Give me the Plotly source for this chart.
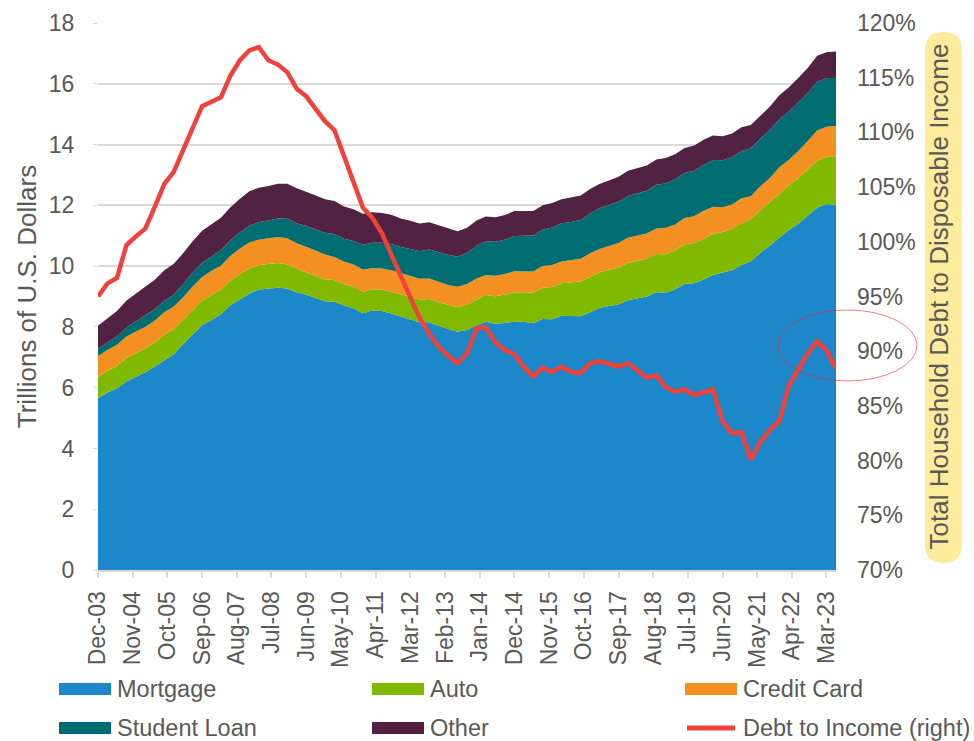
import plotly.graph_objects as go
import pandas as pd

# ─── DESIGN TOKENS ────────────────────────────────────────────
BLUE   = "#1C88C9"
GREEN  = "#80BA00"
ORANGE = "#F39021"
TEAL   = "#006D72"
PLUM   = "#522243"
RED    = "#F0413A"
GRID   = "#D9D9D9"
TEXT   = "#595959"
YELLOW = "#FFEB9C"
FONT   = "Arial, 'Liberation Sans', sans-serif"

# ─── DATA (quarterly, Dec-03 .. Jun-23, trillions of US$) ─────
quarters = pd.date_range("2003-12-01", periods=79, freq="3MS")

mortgage = [
    5.65,
    5.84, 5.97, 6.21, 6.36, 6.51, 6.70, 6.91, 7.10, 7.44, 7.76, 8.05, 8.23,
    8.42, 8.71, 8.92, 9.10, 9.23, 9.27, 9.29, 9.26, 9.14, 9.06, 8.94, 8.84,
    8.83, 8.70, 8.61, 8.45, 8.54, 8.52, 8.44, 8.33, 8.24, 8.15, 8.15, 8.03,
    7.93, 7.84, 7.90, 8.05, 8.17, 8.10, 8.13, 8.17, 8.17, 8.12, 8.26, 8.25,
    8.37, 8.36, 8.35, 8.48, 8.63, 8.69, 8.74, 8.88, 8.94, 9.00, 9.14, 9.12,
    9.24, 9.41, 9.44, 9.56, 9.71, 9.78, 9.86, 10.04, 10.16, 10.44, 10.67, 10.93,
    11.18, 11.39, 11.67, 11.92, 12.04, 12.01,
]
auto = [
    0.70,
    0.72, 0.74, 0.77, 0.77, 0.78, 0.79, 0.83, 0.82, 0.79, 0.82, 0.82, 0.82,
    0.80, 0.81, 0.82, 0.81, 0.80, 0.80, 0.81, 0.79, 0.77, 0.74, 0.74, 0.72,
    0.71, 0.70, 0.71, 0.71, 0.70, 0.70, 0.72, 0.73, 0.74, 0.75, 0.77, 0.78,
    0.79, 0.81, 0.84, 0.86, 0.88, 0.91, 0.93, 0.96, 0.97, 1.00, 1.03, 1.06,
    1.07, 1.10, 1.14, 1.16, 1.17, 1.19, 1.21, 1.22, 1.23, 1.24, 1.26, 1.27,
    1.28, 1.30, 1.32, 1.33, 1.35, 1.34, 1.36, 1.37, 1.37, 1.40, 1.43, 1.46,
    1.47, 1.50, 1.52, 1.55, 1.56, 1.58,
]
credit_card = [
    0.69,
    0.68, 0.70, 0.70, 0.72, 0.71, 0.72, 0.74, 0.75, 0.74, 0.75, 0.77, 0.80,
    0.79, 0.82, 0.84, 0.87, 0.84, 0.85, 0.86, 0.87, 0.84, 0.84, 0.83, 0.82,
    0.76, 0.74, 0.73, 0.73, 0.69, 0.70, 0.70, 0.70, 0.68, 0.68, 0.67, 0.68,
    0.66, 0.67, 0.67, 0.68, 0.66, 0.67, 0.68, 0.70, 0.68, 0.70, 0.71, 0.73,
    0.71, 0.73, 0.75, 0.78, 0.76, 0.78, 0.81, 0.83, 0.82, 0.83, 0.84, 0.87,
    0.85, 0.87, 0.88, 0.93, 0.89, 0.82, 0.81, 0.82, 0.77, 0.79, 0.80, 0.86,
    0.84, 0.89, 0.93, 0.99, 0.99, 1.03,
]
student_loan = [
    0.25,
    0.26, 0.28, 0.31, 0.33, 0.36, 0.37, 0.38, 0.39, 0.43, 0.45, 0.47, 0.48,
    0.51, 0.51, 0.53, 0.55, 0.58, 0.58, 0.61, 0.64, 0.66, 0.68, 0.70, 0.72,
    0.76, 0.76, 0.78, 0.81, 0.84, 0.85, 0.87, 0.87, 0.90, 0.91, 0.96, 0.97,
    0.99, 0.99, 1.03, 1.08, 1.11, 1.12, 1.13, 1.16, 1.19, 1.19, 1.20, 1.23,
    1.26, 1.26, 1.28, 1.31, 1.34, 1.34, 1.36, 1.38, 1.41, 1.41, 1.44, 1.46,
    1.49, 1.48, 1.50, 1.51, 1.54, 1.54, 1.55, 1.56, 1.58, 1.57, 1.58, 1.58,
    1.59, 1.59, 1.57, 1.60, 1.60, 1.57,
]
other = [
    0.75,
    0.79, 0.83, 0.88, 0.92, 0.94, 0.97, 1.00, 1.02, 1.02, 1.04, 1.05, 1.06,
    1.07, 1.09, 1.11, 1.13, 1.13, 1.14, 1.14, 1.15, 1.15, 1.13, 1.11, 1.10,
    1.08, 1.06, 1.04, 1.02, 1.00, 0.98, 0.96, 0.94, 0.93, 0.91, 0.89, 0.88,
    0.86, 0.84, 0.82, 0.83, 0.81, 0.81, 0.81, 0.82, 0.80, 0.80, 0.80, 0.81,
    0.79, 0.80, 0.80, 0.81, 0.80, 0.82, 0.82, 0.83, 0.82, 0.83, 0.83, 0.84,
    0.82, 0.83, 0.83, 0.83, 0.81, 0.79, 0.78, 0.78, 0.76, 0.76, 0.77, 0.79,
    0.80, 0.82, 0.83, 0.86, 0.85, 0.87,
]
debt_to_income = [
    95.0, 96.2, 96.7, 99.7, 100.5, 101.2, 103.2, 105.3, 106.4, 108.4,
    110.4, 112.4, 112.8, 113.2, 115.2, 116.6, 117.5, 117.8, 116.6, 116.2,
    115.5, 114.0, 113.3, 112.2, 111.0, 110.2, 107.8, 105.5, 103.1, 102.2,
    100.8, 98.8, 96.8, 95.0, 93.0, 91.6, 90.4, 89.6, 88.9, 89.8,
    92.1, 92.2, 90.8, 90.1, 89.7, 88.6, 87.7, 88.5, 88.1, 88.6,
    88.1, 88.0, 88.9, 89.1, 88.8, 88.6, 88.9, 88.3, 87.6, 87.8,
    86.7, 86.3, 86.5, 86.0, 86.3, 86.5, 83.6, 82.5, 82.6, 80.1,
    81.7, 82.8, 83.6, 86.8, 88.3, 89.8, 90.9, 90.1, 88.4,
]

tick_dates = pd.date_range("2003-12-01", periods=22, freq="11MS")

# ─── FIGURE ───────────────────────────────────────────────────
fig = go.Figure()

stack = [
    ("Mortgage", mortgage, BLUE),
    ("Auto", auto, GREEN),
    ("Credit Card", credit_card, ORANGE),
    ("Student Loan", student_loan, TEAL),
    ("Other", other, PLUM),
]
for name, vals, color in stack:
    fig.add_trace(go.Scatter(
        x=quarters, y=vals, name=name,
        stackgroup="debt", mode="lines",
        line=dict(width=0, color=color),
        fillcolor=color, showlegend=False,
        hovertemplate=f"<b>{name}</b><br>%{{x|%b-%y}}: %{{y:.2f}}T<extra></extra>",
    ))

DTI_NAME = "Debt to Income (right)"
fig.add_trace(go.Scatter(
    x=quarters, y=debt_to_income, name=DTI_NAME,
    yaxis="y2", mode="lines", showlegend=False,
    line=dict(color=RED, width=4.5),
    hovertemplate="%{x|%b-%y}: %{y:.1f}%<extra></extra>",
))

W = 738.0   # plot width px
H = 547.0   # plot height px
def px_x(p):
    return (p - 98) / W
def px_y(p):
    return (570 - p) / H

# ─── LEGEND (3 columns x 2 rows, drawn in paper space) ────────
legend_items = [(n, c, "box") for n, _, c in stack] + [(DTI_NAME, RED, "line")]
col_x = [59, 372, 685]
row_y = [689, 728]
shapes, annotations = [], []
for k, (name, color, kind) in enumerate(legend_items):
    sx, sy = col_x[k % 3], row_y[k // 3]
    if kind == "box":
        shapes.append(dict(type="rect", xref="paper", yref="paper",
                           x0=px_x(sx), x1=px_x(sx + 52), y0=px_y(sy + 6), y1=px_y(sy - 6),
                           fillcolor=color, line=dict(width=0)))
    else:
        shapes.append(dict(type="line", xref="paper", yref="paper",
                           x0=px_x(sx + 2), x1=px_x(sx + 50), y0=px_y(sy), y1=px_y(sy),
                           line=dict(color=color, width=5)))
    annotations.append(dict(text=name, xref="paper", yref="paper",
                            x=px_x(sx + 56), y=px_y(sy), xanchor="left", yanchor="middle",
                            showarrow=False, font=dict(family=FONT, size=23.5, color=TEXT)))

# rounded highlight behind the right axis title
bx0, bx1 = px_x(925), px_x(962)
by0, by1 = px_y(563), px_y(32)
bxc = (bx0 + bx1) / 2
r = 18.5 / H
box_path = (
    f"M{bx0},{by0 + r} L{bx0},{by1 - r} Q{bx0},{by1} {bxc},{by1} "
    f"Q{bx1},{by1} {bx1},{by1 - r} L{bx1},{by0 + r} "
    f"Q{bx1},{by0} {bxc},{by0} Q{bx0},{by0} {bx0},{by0 + r} Z"
)
shapes.append(dict(type="path", xref="paper", yref="paper", path=box_path,
                   fillcolor=YELLOW, line=dict(width=0), layer="below"))
shapes.append(dict(type="circle", xref="paper", yref="paper",
                   x0=px_x(778), x1=px_x(917), y0=px_y(381), y1=px_y(310),
                   line=dict(color="rgba(235,40,50,0.6)", width=1)))

fig.update_layout(
    width=974, height=741,
    paper_bgcolor="white", plot_bgcolor="white",
    font=dict(family=FONT, size=23, color=TEXT),
    margin=dict(l=98, r=138, t=23, b=171),
    showlegend=False,
    xaxis=dict(
        type="date", automargin=False,
        range=["2003-12-01", "2023-06-01"],
        tickvals=list(tick_dates), tickformat="%b-%y", tickangle=-90,
        ticks="outside", ticklen=6, tickcolor=GRID, tickwidth=1.5,
        showline=True, linecolor=GRID, linewidth=2,
        showgrid=False, zeroline=False,
        tickfont=dict(size=23, color=TEXT),
        ticklabelstandoff=4,
    ),
    yaxis=dict(
        range=[0, 18], dtick=2, automargin=False,
        showgrid=True, gridcolor=GRID, gridwidth=2,
        ticks="outside", ticklen=4, tickcolor=GRID,
        zeroline=False, showline=False,
        tickfont=dict(size=23, color=TEXT),
        ticklabelstandoff=14,
        title=dict(text="Trillions of U.S. Dollars", font=dict(size=26, color=TEXT), standoff=4),
    ),
    yaxis2=dict(
        overlaying="y", side="right", automargin=False,
        range=[70, 120], dtick=5, ticksuffix="%",
        showgrid=False, zeroline=False, showline=False, ticks="",
        tickfont=dict(size=23, color=TEXT),
        ticklabelstandoff=20,
        title=dict(text="Total Household Debt to Disposable Income",
                   font=dict(size=26, color=TEXT), standoff=14),
    ),
    shapes=shapes,
    annotations=annotations,
)

# the page's default body margin would offset the 974x741 figure
fig.write_html("out.html", config={"displayModeBar": False},
               post_script="document.body.style.margin='0px';")
